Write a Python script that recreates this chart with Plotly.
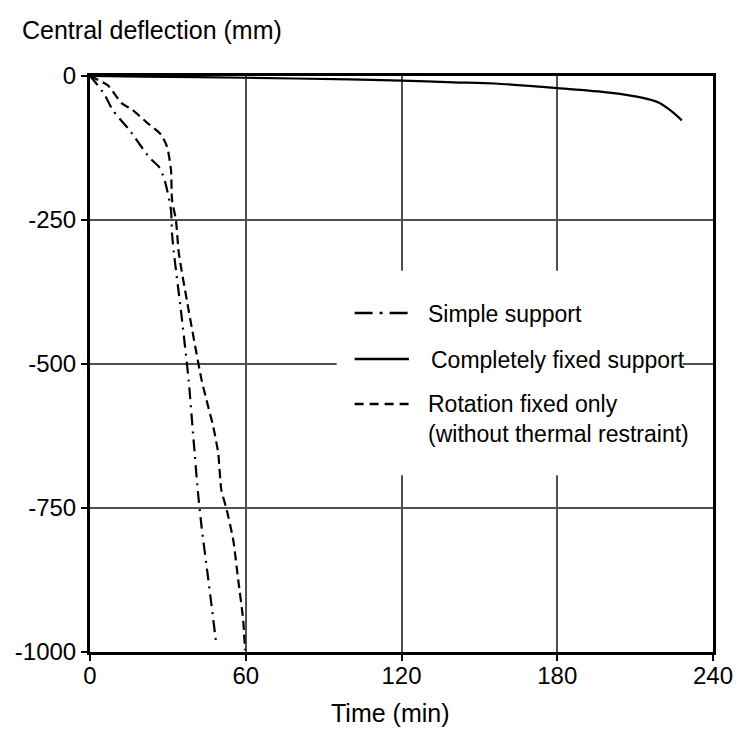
import plotly.graph_objects as go

# ---- data ----
t_simple = [0, 1.9, 5.7, 8.7, 15.2, 22.8, 26.6, 28.5, 29.7, 31.2, 31.6, 32.3, 35.0, 38.0, 39.9, 41.5, 43.0, 45.6, 48.7]
d_simple = [0, -10, -33, -59, -94, -141, -158, -177, -198, -233, -273, -307, -406, -528, -632, -719, -783, -875, -988]

t_fixed = [0, 20, 60, 100, 120, 140, 156, 180, 200, 213, 219, 224, 228]
d_fixed = [0, -1, -3, -6, -8, -11, -13, -21, -29, -38, -46, -61, -77]

t_rot = [0, 6.8, 12.2, 16.4, 21.7, 27.4, 29.7, 31.2, 31.6, 33.1, 34.2, 37.3, 43.0, 44.9, 47.5, 49.4, 50.6, 52.5, 55.2, 57.1, 59.0, 59.7]
d_rot = [0, -16, -47, -59, -80, -102, -123, -163, -215, -250, -307, -389, -528, -563, -609, -655, -719, -750, -806, -875, -944, -997]

x_ticks = [0, 60, 120, 180, 240]
y_ticks = [0, -250, -500, -750, -1000]

series_names = ["Simple support", "Completely fixed support", "Rotation fixed only<br>(without thermal restraint)"]

FONT = "Arial, 'Liberation Sans', sans-serif"
DASHDOT = "12px,6px,2px,6px"
DASHED = "9px,5px"

fig = go.Figure()
fig.add_trace(go.Scatter(x=t_simple, y=d_simple, mode="lines", name=series_names[0],
                         line=dict(color="black", width=2.2, dash=DASHDOT, shape="spline", smoothing=0.6),
                         showlegend=False))
fig.add_trace(go.Scatter(x=t_fixed, y=d_fixed, mode="lines", name=series_names[1],
                         line=dict(color="black", width=2.2, shape="spline", smoothing=0.8),
                         showlegend=False))
fig.add_trace(go.Scatter(x=t_rot, y=d_rot, mode="lines", name=series_names[2],
                         line=dict(color="black", width=2.2, dash=DASHED, shape="spline", smoothing=0.6),
                         showlegend=False))

# ---- custom legend (white box + samples + labels), paper coords ----
shapes = [
    dict(type="rect", xref="paper", yref="paper", x0=0.396, x1=0.951, y0=0.307, y1=0.662,
         fillcolor="white", line=dict(width=0), layer="above"),
]
legend_rows = [
    (0.5885, "18px,7px,3px,7px", 0.5868, 0.5388, series_names[0]),
    (0.5087, "solid", 0.5069, 0.5436, series_names[1]),
    (0.4306, "9px,6px", 0.4050, 0.5388, series_names[2]),
]
annotations = []
for ly, dash, ty, tx, txt in legend_rows:
    shapes.append(dict(type="line", xref="paper", yref="paper", x0=0.4247, x1=0.5119, y0=ly, y1=ly,
                       line=dict(color="black", width=2.5, dash=dash), layer="above"))
    annotations.append(dict(xref="paper", yref="paper", x=tx, y=ty, xanchor="left", yanchor="middle",
                            text=txt, showarrow=False, align="left",
                            font=dict(family=FONT, size=23, color="black")))

annotations.append(dict(xref="paper", yref="paper", x=-0.113, y=1.080, xanchor="left", yanchor="middle",
                        text="Central deflection (mm)", showarrow=False,
                        font=dict(family=FONT, size=25, color="black")))
annotations.append(dict(xref="paper", yref="paper", x=0.483, y=-0.106, xanchor="center", yanchor="middle",
                        text="Time (min)", showarrow=False,
                        font=dict(family=FONT, size=25, color="black")))

fig.update_layout(
    width=745, height=740,
    margin=dict(l=90, r=22, t=76, b=88),
    paper_bgcolor="white", plot_bgcolor="white",
    shapes=shapes, annotations=annotations,
    font=dict(family=FONT, size=24, color="black"),
)
fig.update_xaxes(range=[0, 240], tickvals=x_ticks, ticktext=[str(v) for v in x_ticks],
                 showline=True, linecolor="black", linewidth=3, mirror=True,
                 ticks="outside", ticklen=6, tickwidth=2, tickcolor="black",
                 ticklabelstandoff=-6,
                 showgrid=True, gridcolor="#505050", gridwidth=1.5, zeroline=False,
                 tickfont=dict(family=FONT, size=24, color="black"))
fig.update_yaxes(range=[-1000, 0], tickvals=y_ticks, ticktext=[str(v) for v in y_ticks],
                 showline=True, linecolor="black", linewidth=3, mirror=True,
                 ticks="outside", ticklen=6, tickwidth=2, tickcolor="black",
                 showgrid=True, gridcolor="#505050", gridwidth=1.5, zeroline=False,
                 tickfont=dict(family=FONT, size=24, color="black"))

fig.write_html("out.html")
